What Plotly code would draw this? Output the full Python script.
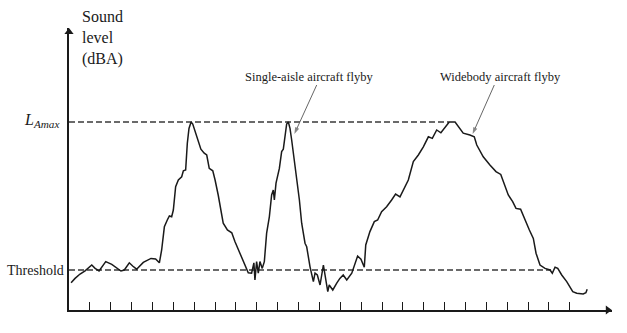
import plotly.graph_objects as go

# Sound level time history of three aircraft flybys
time_s = [
    0.10, 0.29, 0.53, 0.77, 1.09, 1.25, 1.44, 1.76, 2.05, 2.49, 2.65, 2.89, 3.05, 3.24,
    3.56, 3.93, 4.15, 4.33, 4.44, 4.57, 4.71, 4.81, 4.92, 5.00, 5.11, 5.24, 5.40, 5.48,
    5.59, 5.67, 5.75, 5.85, 5.93, 6.12, 6.32, 6.48,
    6.60, 6.72, 6.89, 7.00, 7.15, 7.39, 7.59, 7.80, 7.95, 8.19, 8.43, 8.59, 8.75, 8.86,
    8.91, 8.99, 9.07, 9.15, 9.26, 9.36, 9.47, 9.60, 9.71, 9.79, 9.84, 9.92, 10.08, 10.19,
    10.27, 10.35, 10.43, 10.51, 10.59, 10.67, 10.78, 10.91, 11.04, 11.15, 11.31, 11.39,
    11.55, 11.71, 11.79, 11.90, 12.03, 12.19, 12.27, 12.40, 12.47, 12.64, 12.83, 12.98,
    13.14, 13.31, 13.55, 13.83, 13.99, 14.15, 14.22, 14.42, 14.63, 14.79, 14.98, 15.22,
    15.46, 15.65, 15.86, 16.10, 16.26, 16.50, 16.74, 16.98, 17.22, 17.41, 17.62, 17.82,
    18.02, 18.22, 18.50, 18.69, 18.89, 19.21, 19.42,
    19.54, 19.85, 20.17, 20.46, 20.69, 20.86, 21.05, 21.26, 21.42, 21.64, 21.85, 22.06,
    22.25, 22.38, 22.57, 22.81, 23.05, 23.16, 23.29, 23.42, 23.61, 23.85, 24.14, 24.33,
    24.64, 24.77, 24.83,
]
level_dba = [
    56.8, 57.9, 59.0, 59.8, 61.25, 60.4, 59.75, 62.1, 61.4, 59.75, 60.0, 61.8, 61.0, 60.2,
    61.9, 62.9, 62.75, 61.8, 65.0, 70.8, 72.5, 73.5, 73.3, 75.0, 80.8, 82.5, 83.3, 84.8,
    85.0, 91.7, 95.4, 97.0, 96.5, 93.3, 90.2, 89.2,
    88.75, 85.4, 84.8, 82.5, 78.75, 71.7, 70.0, 69.3, 67.1, 64.2, 61.25, 59.3, 59.2, 61.8,
    57.5, 62.1, 59.2, 62.1, 60.4, 62.1, 69.2, 73.3, 78.75, 80.0, 77.5, 81.7, 85.4, 89.6,
    90.2, 93.3, 96.5, 97.0, 95.4, 92.5, 88.3, 83.3, 77.5, 71.7, 66.7, 65.8,
    60.8, 57.1, 59.2, 58.75, 56.25, 61.25, 58.3, 54.6, 56.25, 55.0, 56.7, 57.9,
    58.75, 57.5, 59.2, 63.5, 62.7, 60.7, 66.25, 69.6, 72.1, 72.5, 74.6, 75.8,
    77.5, 79.0, 78.3, 80.8, 82.5, 87.1, 88.75, 90.8, 93.3, 92.9, 95.0, 94.3,
    95.8, 97.0, 97.0, 95.7, 94.2, 93.75, 93.3,
    91.25, 88.3, 86.25, 84.6, 83.9, 81.7, 78.75, 77.1, 75.4, 75.2, 72.5, 70.0,
    67.9, 64.2, 61.25, 60.4, 60.0, 59.2, 60.7, 60.4, 58.75, 57.1, 54.6, 54.2,
    54.0, 54.3, 55.2,
]

threshold_level = 60.0
lamax_level = 97.0
threshold_end = 23.1
lamax_end = 18.2

tick_times = list(range(1, 25))

# callout labels: text position, leader tail and leader tip (time, dBA)
callout_texts = ["Single-aisle aircraft flyby", "Widebody aircraft flyby"]
callout_text_pos = [(11.52, 108.3), (20.67, 108.3)]
callout_tail = [(11.87, 106.25), (20.38, 106.25)]
callout_tip = [(10.80, 94.0), (19.34, 94.0)]

x_max = 26.02
y_min, y_max = 50.0, 120.5

serif = "Times New Roman, Liberation Serif, DejaVu Serif, serif"
ink = "#1a1a1a"
dash_col = "#3a3a3a"
leader_col = "#555555"

fig = go.Figure()

# reference levels
fig.add_trace(go.Scatter(
    x=[0, lamax_end], y=[lamax_level, lamax_level], mode="lines",
    line=dict(color=dash_col, width=1.3, dash="6px,3px"), hoverinfo="skip",
))
fig.add_trace(go.Scatter(
    x=[0, threshold_end], y=[threshold_level, threshold_level], mode="lines",
    line=dict(color=dash_col, width=1.3, dash="6px,3px"), hoverinfo="skip",
))

# measured sound level
fig.add_trace(go.Scatter(
    x=time_s, y=level_dba, mode="lines",
    line=dict(color=ink, width=1.5), hoverinfo="skip",
))

# arrowheads at the ends of both axes
fig.add_trace(go.Scatter(
    x=[0], y=[y_max - 1.0], mode="markers", cliponaxis=False,
    marker=dict(symbol="triangle-up", size=8, color=ink, line=dict(width=0)),
    hoverinfo="skip",
))
fig.add_trace(go.Scatter(
    x=[x_max - 0.2], y=[y_min], mode="markers", cliponaxis=False,
    marker=dict(symbol="triangle-right", size=8, color=ink, line=dict(width=0)),
    hoverinfo="skip",
))

# leader arrows from callout labels to the flyby peaks
for (tx, ty), (hx, hy) in zip(callout_tail, callout_tip):
    fig.add_trace(go.Scatter(
        x=[tx, hx], y=[ty, hy], mode="lines+markers", cliponaxis=False,
        line=dict(color=leader_col, width=0.9),
        marker=dict(symbol="arrow", angleref="previous", size=[0, 7],
                    color=leader_col, line=dict(width=0)),
        hoverinfo="skip",
    ))

annotations = [
    # axis titles
    dict(x=0.53, y=117.9, xref="x", yref="y", xanchor="left", yanchor="middle",
         align="left", showarrow=False, text="Sound<br>level<br>(dBA)",
         font=dict(family=serif, size=16, color=ink)),
    dict(x=24.43, y=46.7, xref="x", yref="y", xanchor="center", yanchor="middle",
         showarrow=False, text="Time (second)",
         font=dict(family=serif, size=15, color=ink)),
    # level labels
    dict(x=0, y=threshold_level, xref="x", yref="y", xanchor="right", yanchor="middle",
         xshift=-3, showarrow=False, text="Threshold",
         font=dict(family=serif, size=14, color=ink)),
    dict(x=0, y=lamax_level, xref="x", yref="y", xanchor="right", yanchor="middle",
         xshift=-8, yshift=2, showarrow=False, text="<i>L</i><sub><i>Amax</i></sub>",
         font=dict(family=serif, size=16, color=ink)),
]
for label, (lx, ly) in zip(callout_texts, callout_text_pos):
    annotations.append(dict(
        x=lx, y=ly, xref="x", yref="y", xanchor="center", yanchor="middle",
        showarrow=False, text=label, font=dict(family=serif, size=12.5, color=ink),
    ))

fig.update_layout(
    width=627, height=333,
    margin=dict(l=69, r=15, t=28, b=23),
    paper_bgcolor="white", plot_bgcolor="white",
    showlegend=False,
    font=dict(family=serif, color=ink),
    annotations=annotations,
    xaxis=dict(
        range=[0, x_max], showgrid=False, zeroline=False,
        showline=True, linecolor=ink, linewidth=2,
        ticks="inside", tickvals=tick_times, ticklen=8, tickwidth=1, tickcolor=ink,
        showticklabels=False, fixedrange=True,
    ),
    yaxis=dict(
        range=[y_min, y_max], showgrid=False, zeroline=False,
        showline=True, linecolor=ink, linewidth=2,
        ticks="", showticklabels=False, fixedrange=True,
    ),
)

fig.write_html("out.html")
